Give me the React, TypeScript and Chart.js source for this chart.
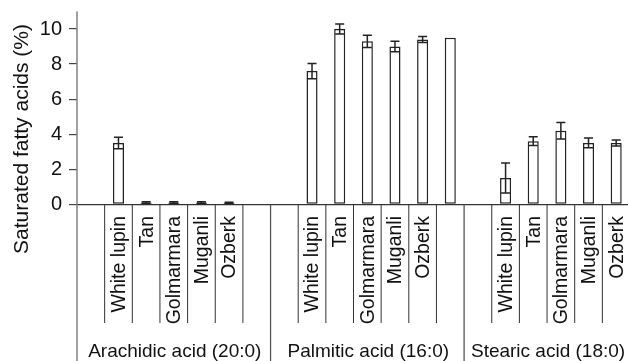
import React, { useEffect, useRef } from 'react';
import { Chart, registerables } from 'chart.js';

Chart.register(...registerables);

// ---- data ----
const cultivars = ['White lupin', 'Tan', 'Golmarmara', 'Muganli', 'Ozberk'];
const groupNames = ['Arachidic acid (20:0)', 'Palmitic acid (16:0)', 'Stearic acid (18:0)'];
const arachidicMean = [3.5, 0.1, 0.1, 0.1, 0.08];
const arachidicErr = [0.33, 0.05, 0.05, 0.05, 0.04];
const palmiticMean = [7.6, 10.0, 9.3, 9.0, 9.4];
const palmiticErr = [0.43, 0.28, 0.35, 0.3, 0.17];
const palmiticExtra = 9.5; // unlabeled bar at the end of the palmitic group
const stearicMean = [1.5, 3.6, 4.2, 3.5, 3.5];
const stearicErr = [0.85, 0.25, 0.47, 0.28, 0.17];
const yTickValues = [0, 2, 4, 6, 8, 10];
const yMax = 11;
const yTitle = 'Saturated fatty acids (%)';

// ---- slots built from data ----
const slotLabels: string[] = [
  '', ...cultivars, '',
  '', ...cultivars, '',
  '', ...cultivars,
];
const slotValues: (number | null)[] = [
  null, ...arachidicMean, null,
  null, ...palmiticMean, palmiticExtra,
  null, ...stearicMean,
];
const slotErrors: (number | null)[] = [
  null, ...arachidicErr, null,
  null, ...palmiticErr, null,
  null, ...stearicErr,
];
const groupSpans = [
  { start: 0, end: 7 },
  { start: 7, end: 14 },
  { start: 14, end: 20 },
];

const FONT = "'Liberation Sans', Arial, Helvetica, sans-serif";
const TEXT = '#111';

const decorPlugin = {
  id: 'decor',
  afterDatasetsDraw(chart: any) {
    const { ctx, scales } = chart;
    const ys = scales.y;
    const meta = chart.getDatasetMeta(0);
    ctx.save();
    ctx.strokeStyle = '#222';
    ctx.lineWidth = 1.5;
    slotErrors.forEach((e, i) => {
      const v = slotValues[i];
      if (e == null || v == null) return;
      const el = meta.data[i];
      const x = el.x;
      const yT = ys.getPixelForValue(v + e);
      const yB = ys.getPixelForValue(Math.max(0, v - e));
      const cap = 4.5;
      ctx.beginPath();
      ctx.moveTo(x, yT);
      ctx.lineTo(x, yB);
      ctx.moveTo(x - cap, yT);
      ctx.lineTo(x + cap, yT);
      ctx.moveTo(x - cap, yB);
      ctx.lineTo(x + cap, yB);
      ctx.stroke();
    });
    ctx.restore();
  },
  afterDraw(chart: any) {
    const { ctx, scales, chartArea, height } = chart;
    const xs = scales.x;
    const ys = scales.y;
    const slot = xs.getPixelForValue(1) - xs.getPixelForValue(0);
    const base = ys.getPixelForValue(0);
    ctx.save();

    // y axis line extended to bottom
    ctx.strokeStyle = '#808080';
    ctx.lineWidth = 1.5;
    ctx.beginPath();
    ctx.moveTo(chartArea.left, chartArea.top);
    ctx.lineTo(chartArea.left, height);
    ctx.stroke();

    // group separators and slot dividers
    groupSpans.forEach((g, gi) => {
      if (gi > 0) {
        ctx.strokeStyle = '#555';
        ctx.lineWidth = 1.3;
        const xl = xs.getPixelForValue(g.start) - slot / 2;
        ctx.beginPath();
        ctx.moveTo(xl, base);
        ctx.lineTo(xl, height);
        ctx.stroke();
      }
      ctx.strokeStyle = '#333';
      ctx.lineWidth = 1;
      for (let k = g.start; k < g.end - 1; k++) {
        const xb = xs.getPixelForValue(k) + slot / 2;
        ctx.beginPath();
        ctx.moveTo(xb, base);
        ctx.lineTo(xb, 323);
        ctx.stroke();
      }
    });

    // cultivar labels
    ctx.fillStyle = TEXT;
    ctx.font = `19.5px ${FONT}`;
    slotLabels.forEach((lab, i) => {
      if (!lab) return;
      const x = xs.getPixelForValue(i);
      ctx.save();
      ctx.translate(x, 216);
      ctx.rotate(-Math.PI / 2);
      ctx.textAlign = 'right';
      ctx.textBaseline = 'middle';
      ctx.fillText(lab, 0, 1);
      ctx.restore();
    });

    // group labels
    ctx.font = `19px ${FONT}`;
    ctx.textAlign = 'center';
    ctx.textBaseline = 'alphabetic';
    groupSpans.forEach((g, gi) => {
      const xl = xs.getPixelForValue(g.start) - slot / 2;
      const xr = xs.getPixelForValue(g.end - 1) + slot / 2;
      ctx.fillText(groupNames[gi], (xl + xr) / 2 + 1, 357);
    });

    // y axis title
    ctx.font = `21px ${FONT}`;
    ctx.save();
    ctx.translate(22, 139);
    ctx.rotate(-Math.PI / 2);
    ctx.textAlign = 'center';
    ctx.textBaseline = 'middle';
    ctx.fillText(yTitle, 0, 0);
    ctx.restore();

    ctx.restore();
  },
};

export default function App() {
  const ref = useRef<HTMLCanvasElement | null>(null);
  useEffect(() => {
    if (!ref.current) return;
    const chart = new Chart(ref.current, {
      type: 'bar',
      data: {
        labels: slotLabels.map((l, i) => (l ? l : ' '.repeat(i + 1))),
        datasets: [
          {
            data: slotValues as any,
            backgroundColor: '#ffffff',
            borderColor: '#222',
            borderWidth: 1.5,
            borderSkipped: false,
            barPercentage: 0.5,
            categoryPercentage: 0.8,
          },
        ],
      },
      options: {
        responsive: false,
        animation: false,
        events: [],
        layout: { padding: { top: 11.5, right: 10, bottom: 0, left: 0 } },
        plugins: { legend: { display: false }, tooltip: { enabled: false }, title: { display: false } },
        scales: {
          x: {
            type: 'category',
            offset: true,
            grid: { display: false },
            ticks: { display: false },
            border: { display: true, color: '#333', width: 1.2 },
            afterFit: (s: any) => {
              s.height = 361 - 204.3;
              s.paddingLeft = 0;
              s.paddingRight = 0;
            },
          },
          y: {
            min: 0,
            max: yMax,
            grid: { display: true, drawOnChartArea: false, drawTicks: true, tickLength: 8, color: '#444', lineWidth: 1.2 },
            border: { display: false },
            ticks: {
              padding: 7,
              color: TEXT,
              font: { size: 20, family: FONT },
            },
            afterBuildTicks: (s: any) => {
              s.ticks = yTickValues.map((v) => ({ value: v }));
            },
            afterFit: (s: any) => {
              s.width = 77;
              s.paddingTop = 0;
              s.paddingBottom = 0;
            },
          },
        },
      },
      plugins: [decorPlugin],
    });
    return () => chart.destroy();
  }, []);
  return (
    <div
      style={{
        position: 'fixed',
        left: 0,
        top: 0,
        width: 628,
        height: 361,
        overflow: 'hidden',
        background: '#fff',
      }}
    >
      <canvas ref={ref} width={640} height={361} style={{ display: 'block', width: 640, height: 361 }} />
    </div>
  );
}
